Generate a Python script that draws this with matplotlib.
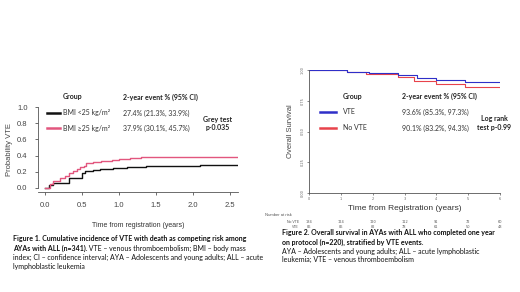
import matplotlib
matplotlib.use("Agg")
from matplotlib import pyplot as plt
from matplotlib.transforms import blended_transform_factory

W, H = 520, 292

# left panel: cumulative incidence of VTE by BMI group
t_low = [0, 0.045, 0.11, 0.32, 0.5, 0.54, 0.65, 0.74, 0.92, 1.1, 1.37, 2.1, 2.61]
ci_low = [0, 0.04, 0.06, 0.12, 0.18, 0.21, 0.225, 0.235, 0.25, 0.265, 0.27, 0.28, 0.28]
t_high = [0, 0.06, 0.1, 0.2, 0.27, 0.32, 0.38, 0.43, 0.47, 0.52, 0.55, 0.65, 0.75,
          0.9, 1.0, 1.15, 1.3, 2.0, 2.61]
ci_high = [0, 0.05, 0.09, 0.12, 0.15, 0.18, 0.21, 0.24, 0.26, 0.27, 0.31, 0.32, 0.33,
           0.35, 0.36, 0.37, 0.38, 0.385, 0.385]
left_groups = ["BMI <25 kg/m\u00b2", "BMI \u226525 kg/m\u00b2"]
left_events = ["27.4% (21.3%, 33.9%)", "37.9% (30.1%, 45.7%)"]

# right panel: overall survival by VTE
t_vte = [0, 1.2, 1.9, 2.8, 3.4, 4.0, 4.9, 6.0]
os_vte = [1.0, 0.986, 0.973, 0.959, 0.933, 0.919, 0.90, 0.90]
t_novte = [0, 1.2, 1.8, 2.8, 3.3, 4.0, 4.9, 6.0]
os_novte = [1.0, 0.986, 0.965, 0.946, 0.91, 0.89, 0.865, 0.865]
right_groups = ["VTE", "No VTE"]
right_events = ["93.6% (85.3%, 97.3%)", "90.1% (83.2%, 94.3%)"]
risk_times = [0, 1, 2, 3, 4, 5, 6]
risk_novte = [134, 124, 120, 112, 91, 72, 60]
risk_vte = [86, 86, 82, 78, 61, 50, 43]

black, pink = "#111111", "#e2567e"
blue, red = "#2f2fc8", "#e8434b"
cap_font = "Lato"
ax_font = "Liberation Sans"


def fx(x):
    return x / W


def fy(y):
    return 1 - y / H


fig = plt.figure(figsize=(5.2, 2.92), dpi=100)

# ---- left plot
ax1 = fig.add_axes([fx(38), fy(192), fx(238) - fx(38), fy(107) - fy(192)])
ax1.step(t_low, ci_low, where="post", color=black, lw=1)
ax1.step(t_high, ci_high, where="post", color=pink, lw=1)
ax1.set_xlim(-0.1, 2.61)
ax1.set_ylim(-0.05, 1.0)
ax1.spines[["top", "right"]].set_visible(False)
ax1.spines["left"].set_bounds(0, 1)
for s in ("left", "bottom"):
    ax1.spines[s].set_linewidth(0.6)
    ax1.spines[s].set_color("#555555")
ax1.set_xticks([0, 0.5, 1.0, 1.5, 2.0, 2.5])
ax1.set_yticks([0, 0.2, 0.4, 0.6, 0.8, 1.0])
ax1.tick_params(labelsize=5.5, length=2.5, width=0.6, color="#555555", labelcolor="#444444", pad=5)
for lab in ax1.get_xticklabels() + ax1.get_yticklabels():
    lab.set_family(ax_font)
ax1.set_ylabel("Probability VTE", fontsize=5.5, family=ax_font, color="#444444", labelpad=3)
ax1.set_xlabel("Time from registration (years)", fontsize=5, family=ax_font, color="#333333", labelpad=9)

# ---- right plot
ax2 = fig.add_axes([fx(309), fy(193), fx(500) - fx(309), fy(70) - fy(193)])
ax2.step(t_novte, os_novte, where="post", color=red, lw=0.8)
ax2.step(t_vte, os_vte, where="post", color=blue, lw=0.8)
ax2.set_xlim(0, 6)
ax2.set_ylim(0, 1)
ax2.spines[["top", "right"]].set_visible(False)
for s in ("left", "bottom"):
    ax2.spines[s].set_linewidth(0.6)
    ax2.spines[s].set_color("#555555")
ax2.set_xticks(risk_times)
ax2.set_yticks([0, 0.25, 0.5, 0.75, 1.0])
ax2.set_yticklabels(["0.00", "0.25", "0.50", "0.75", "1.00"], rotation=90, va="center")
ax2.tick_params(labelsize=2.5, length=1.5, width=0.5, color="#555555", labelcolor="#666666", pad=1.5)
ax2.set_ylabel("Overall Survival", fontsize=5.5, family=ax_font, color="#444444", labelpad=5)
ax2.set_xlabel("Time from Registration (years)", fontsize=6, family=ax_font, color="#333333", labelpad=3)

tr = blended_transform_factory(ax2.transData, fig.transFigure)
fig.text(fx(265), fy(215), "Number at risk", fontsize=3, color="#555555", va="center", family=ax_font)
fig.text(fx(299), fy(222), "No VTE", fontsize=2.5, color="#555555", va="center", ha="right", family=ax_font)
fig.text(fx(299), fy(227), "VTE", fontsize=2.5, color="#555555", va="center", ha="right", family=ax_font)
for t, a, b in zip(risk_times, risk_novte, risk_vte):
    fig.text(t, fy(222), str(a), transform=tr, fontsize=2.5, color="#555555", ha="center", va="center")
    fig.text(t, fy(227), str(b), transform=tr, fontsize=2.5, color="#555555", ha="center", va="center")

# ---- legend tables
def table(x_line, x_group, x_ev, y_rows, colors, groups, events, test, x_test):
    fig.text(fx(x_group), fy(y_rows[0] - 16), "Group", fontsize=5, weight="bold",
             family=cap_font, va="center", color="#222222")
    fig.text(fx(x_ev), fy(y_rows[0] - 16), "2-year event % (95% CI)", fontsize=5, weight="bold",
             family=cap_font, va="center", color="#222222")
    for y, c, g, e in zip(y_rows, colors, groups, events):
        fig.add_artist(plt.Line2D([fx(x_line[0]), fx(x_line[1])], [fy(y), fy(y)], color=c, lw=1.8))
        fig.text(fx(x_group), fy(y), g, fontsize=5, family=cap_font, va="center", color="#333333")
        fig.text(fx(x_ev), fy(y), e, fontsize=5, family=cap_font, va="center", color="#333333")
    fig.text(fx(x_test), fy((y_rows[0] + y_rows[1]) / 2 + 3), test, fontsize=5, weight="bold",
             family=cap_font, va="center", ha="center", color="#222222", linespacing=1.3)


table((47, 60), 63, 123, [113, 128], [black, pink], left_groups, left_events,
      "Grey test\np-0.035", 218)
table((320, 336), 343, 402, [112, 128], [blue, red], right_groups, right_events,
      "Log rank\ntest p-0.99", 494)

# ---- captions
renderer = fig.canvas.get_renderer()


def line(x, y, parts):
    cx = fx(x)
    for txt, bold in parts:
        t = fig.text(cx, fy(y), txt, fontsize=5.0, family=cap_font, va="center",
                     weight="bold" if bold else "normal", color="#111111")
        bb = t.get_window_extent(renderer)
        cx = fig.transFigure.inverted().transform((bb.x1, 0))[0]


line(13, 239, [("Figure 1. Cumulative incidence of VTE with death as competing risk among", True)])
line(13, 248, [("AYAs with ALL (n=341).", True), (" VTE \u2013 venous thromboembolism; BMI \u2013 body mass", False)])
line(13, 257, [("index; CI \u2013 confidence interval; AYA \u2013 Adolescents and young adults; ALL \u2013 acute", False)])
line(13, 266, [("lymphoblastic leukemia", False)])

line(282, 233, [("Figure 2. Overall survival in AYAs with ALL who completed one year", True)])
line(282, 242, [("on protocol (n=220), stratified by VTE events.", True)])
line(282, 251, [("AYA \u2013 Adolescents and young adults; ALL \u2013 acute lymphoblastic", False)])
line(282, 259, [("leukemia; VTE \u2013 venous thromboembolism", False)])

fig.savefig("out.png", dpi=100)
